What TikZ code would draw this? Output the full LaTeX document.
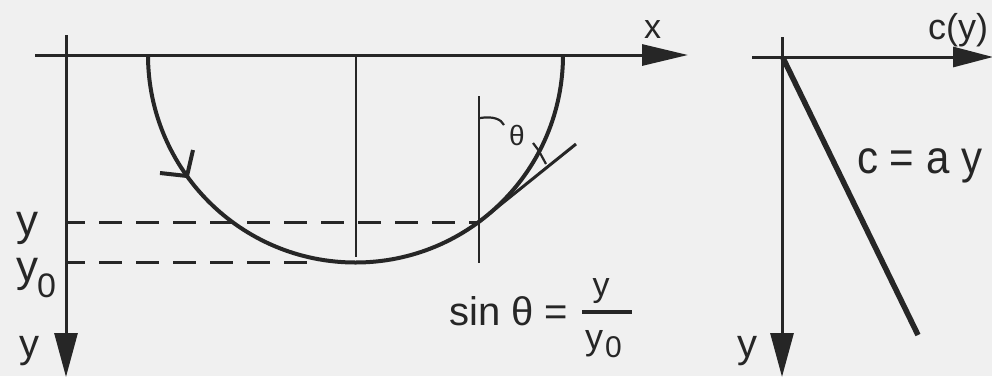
\documentclass[tikz,border=0pt]{standalone}
\usepackage{fontspec}
\setmainfont{Liberation Sans}
\usetikzlibrary{arrows.meta}
\definecolor{bgc}{RGB}{240,240,240}
\definecolor{ink}{RGB}{38,38,38}
\newcommand\setsz[1]{\fontsize{#1}{#1}\selectfont}
\begin{document}
\begin{tikzpicture}[x=1pt,y=-1pt,
  axis/.style={draw=ink,line width=3pt},
  htip/.style={-{Triangle[length=46pt,width=21pt]}},
  vtip/.style={-{Triangle[length=44pt,width=23pt]}},
  curve/.style={draw=ink,line width=4pt},
  thin/.style={draw=ink,line width=2.8pt},
  dashlvl/.style={draw=ink,line width=3pt,dash pattern=on 23pt off 14pt,dash phase=6pt},
  lab/.style={inner sep=0pt,anchor=base west,text=ink,draw=ink,line width=0.5pt}]
\useasboundingbox[fill=bgc] (0,0) rectangle (992,376);
% left axes
\coordinate (xa0) at (35,55); \coordinate (xa1) at (688,55);
\coordinate (ya0) at (66,35); \coordinate (ya1) at (66,377);
\draw[axis,htip] (xa0) -- (xa1);
\draw[axis,vtip] (ya0) -- (ya1);
% semicircle
\coordinate (cs) at (148,55);
\draw[curve] (cs) arc[start angle=180,end angle=0,radius=207.5];
% direction chevron on the curve
\coordinate (ch1) at (160,173); \coordinate (chv) at (187,176); \coordinate (ch2) at (193,150);
\draw[curve,miter limit=4] (ch1) -- (chv) -- (ch2);
% vertical lines
\coordinate (m0) at (356,55); \coordinate (m1) at (356,257);
\draw[thin] (m0) -- (m1);
\coordinate (v0) at (479,96); \coordinate (v1) at (479,263);
\draw[thin] (v0) -- (v1);
% dashed levels
\coordinate (d1a) at (68,222); \coordinate (d1b) at (480,222);
\coordinate (d2a) at (68,262); \coordinate (d2b) at (312,262);
\draw[dashlvl] (d1a) -- (d1b);
\draw[dashlvl] (d2a) -- (d2b);
% tangent
\coordinate (tp) at (479,222); \coordinate (te) at (576,144);
\draw[thin,line width=3pt] (tp) -- (te);
% angle mark
\coordinate (a0) at (480,118); \coordinate (a1) at (504,125);
\draw[ink,line width=2.2pt] (a0) .. controls (493,116) and (501,119) .. (a1);
\coordinate (k0) at (533,143); \coordinate (k1) at (539,151);
\draw[ink,line width=2.2pt] (k0) -- (k1);
\coordinate (q0) at (540,153); \coordinate (q1) at (546,164);
\draw[ink,line width=2.2pt] (q0) -- (q1);
% right panel
\coordinate (ra0) at (752,57); \coordinate (ra1) at (993,57);
\coordinate (rb0) at (782,37); \coordinate (rb1) at (782,377);
\draw[axis,-{Triangle[length=40pt,width=20pt]}] (ra0) -- (ra1);
\draw[axis,vtip] (rb0) -- (rb1);
\coordinate (l0) at (783,58); \coordinate (l1) at (918,335);
\draw[ink,line width=5.5pt] (l0) -- (l1);
% labels
\node[inner sep=0pt,anchor=base west,text=ink] (lx) at (644,38) {\setsz{34}x};
\node[inner sep=0pt,anchor=base west,text=ink] (lc) at (928,39) {\setsz{36}c(y)};
\node[inner sep=0pt,anchor=base west,text=ink,yscale=1.1] (lcay) at (857,173) {\setsz{42}c = a y};
\node[inner sep=0pt,anchor=base west,text=ink] (ly1) at (16,235) {\setsz{44}y};
\node[inner sep=0pt,anchor=base west,text=ink] (ly2) at (16,281) {\setsz{44}y};
\node[inner sep=0pt,anchor=base west,text=ink] (ly2s) at (37,297) {\setsz{34}0};
\node[inner sep=0pt,anchor=base west,text=ink] (lyb) at (19,357) {\setsz{40}y};
\node[inner sep=0pt,anchor=base west,text=ink] (lyr) at (737,357) {\setsz{40}y};
\node[inner sep=0pt,anchor=base west,text=ink] (lth) at (509,145) {\setsz{28}θ};
\node[inner sep=0pt,anchor=base west,text=ink] (lsin) at (449,325) {\setsz{40}sin θ =};
\node[inner sep=0pt,anchor=base,text=ink] (lnum) at (601,296) {\setsz{34}y};
\coordinate (fb0) at (582,312); \coordinate (fb1) at (632,312);
\draw[ink,line width=3.2pt] (fb0) -- (fb1);
\node[inner sep=0pt,anchor=base west,text=ink] (lden) at (585,349) {\setsz{36}y};
\node[inner sep=0pt,anchor=base west,text=ink] (ldens) at (605,357) {\setsz{30}0};
\end{tikzpicture}
\end{document}
